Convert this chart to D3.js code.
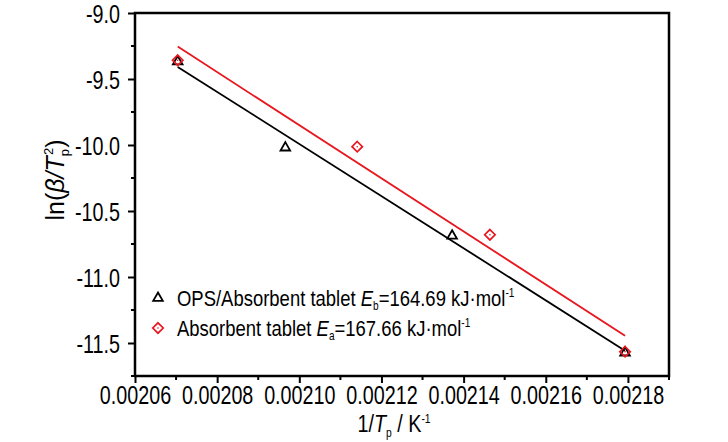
<!DOCTYPE html>
<html><head><meta charset="utf-8">
<script src="https://cdn.jsdelivr.net/npm/d3@7"></script>
<style>
body{margin:0;background:#fff;}
svg{display:block;}
svg text{font-family:"Liberation Sans",Arial,sans-serif;}
</style></head>
<body><svg id="chart" width="728" height="442"></svg>
<script>
const xTicks = [0.00206, 0.00208, 0.00210, 0.00212, 0.00214, 0.00216, 0.00218];
const yTicks = [-9.0, -9.5, -10.0, -10.5, -11.0, -11.5];
const opsX = [0.0020704, 0.0020966, 0.0021372, 0.0021793];
const opsY = [-9.36, -10.013, -10.68, -11.566];
const absX = [0.0020704, 0.0021141, 0.0021464, 0.0021793];
const absY = [-9.358, -10.013, -10.68, -11.566];
const seriesNames = ["OPS/Absorbent tablet ", "Absorbent tablet "];
const seriesE = [["b", "164.69"], ["a", "167.66"]];
const colors = ["#000000", "#e8161e"];

const svg = d3.select("#chart");
const L = 135, R = 669, T = 13, B = 376;
const SX = 0.79;
const x = d3.scaleLinear().domain([0.00206, 0.00219]).range([L, R]);
const y = d3.scaleLinear().domain([-11.75, -9.0]).range([B, T]);

function fit(xs, ys) {
  const mx = d3.mean(xs), my = d3.mean(ys);
  let sxy = 0, sxx = 0;
  xs.forEach((v, i) => { sxy += (v - mx) * (ys[i] - my); sxx += (v - mx) * (v - mx); });
  const b = sxy / sxx, a = my - b * mx;
  const x0 = d3.min(xs), x1 = d3.max(xs);
  return [[x0, a + b * x0], [x1, a + b * x1]];
}

const series = [[opsX, opsY], [absX, absY]];
series.forEach((s, i) => {
  const pts = fit(s[0], s[1]);
  svg.append("line")
    .attr("x1", x(pts[0][0])).attr("y1", y(pts[0][1]))
    .attr("x2", x(pts[1][0])).attr("y2", y(pts[1][1]))
    .attr("stroke", colors[i]).attr("stroke-width", 1.8);
});

const tri = d3.symbol().type(d3.symbolTriangle).size(40);
function triangle(g, cx, cy) {
  g.append("path").attr("d", tri()).attr("transform", `translate(${cx},${cy + 1})`)
    .attr("fill", "none").attr("stroke", "#000").attr("stroke-width", 1.8);
}
function diamond(g, cx, cy) {
  const s = 5.2;
  g.append("path").attr("d", `M${cx},${cy - s}L${cx + s},${cy}L${cx},${cy + s}L${cx - s},${cy}Z`)
    .attr("fill", "none").attr("stroke", colors[1]).attr("stroke-width", 1.7);
  g.append("circle").attr("cx", cx).attr("cy", cy).attr("r", 0.8).attr("fill", colors[1]);
}
const mk = svg.append("g");
opsX.forEach((v, i) => triangle(mk, x(v), y(opsY[i])));
absX.forEach((v, i) => diamond(mk, x(v), y(absY[i])));

const xAxis = d3.axisBottom(x).tickValues(xTicks).tickSize(7).tickFormat(d3.format(".5f"));
const gx = svg.append("g").attr("transform", `translate(0,${B})`).call(xAxis);
const xMinor = d3.range(0.00207, 0.00219, 0.00002);
gx.selectAll(".minor").data(xMinor).enter().append("line").attr("class", "minor")
  .attr("x1", d => x(d)).attr("x2", d => x(d)).attr("y1", 0).attr("y2", 4)
  .attr("stroke", "#000").attr("stroke-width", 2);
const yAxis = d3.axisLeft(y).tickValues(yTicks).tickSize(7).tickFormat(d3.format(".1f"));
const gy = svg.append("g").attr("transform", `translate(${L},0)`).call(yAxis);
const yMinor = [-9.25, -9.75, -10.25, -10.75, -11.25, -11.75];
gy.selectAll(".minor").data(yMinor).enter().append("line").attr("class", "minor")
  .attr("x1", 0).attr("x2", -4).attr("y1", d => y(d)).attr("y2", d => y(d))
  .attr("stroke", "#000").attr("stroke-width", 2);
[gx, gy].forEach(g => {
  g.select(".domain").remove();
  g.selectAll(".tick line").attr("stroke", "#000").attr("stroke-width", 2);
  g.attr("font-family", null);
  g.selectAll("text").attr("font-size", 25).attr("fill", "#000")
    .attr("transform", `scale(${SX},1)`);
});
gx.selectAll(".tick text").attr("dy", "0.71em").attr("y", 10);
gy.selectAll(".tick text").attr("x", -15 / SX).attr("dy", "0.36em");
gy.selectAll(".tick text").text(d => d3.format(".1f")(d).replace("−", "-"));

svg.append("rect").attr("x", L).attr("y", T).attr("width", R - L).attr("height", B - T)
  .attr("fill", "none").attr("stroke", "#000").attr("stroke-width", 2.5);

const xt = svg.append("text").attr("transform", "translate(394,432) scale(0.86,1)")
  .attr("text-anchor", "middle").attr("font-size", 23);
xt.append("tspan").text("1/");
xt.append("tspan").attr("font-style", "italic").text("T");
xt.append("tspan").attr("font-size", 12).attr("dy", 5).text("p");
xt.append("tspan").attr("dy", -5).text(" / K");
xt.append("tspan").attr("font-size", 12).attr("dy", -9).text("-1");

const yt = svg.append("text").attr("transform", "translate(64,180) rotate(-90)")
  .attr("text-anchor", "middle").attr("font-size", 25);
yt.append("tspan").text("ln(");
yt.append("tspan").attr("font-style", "italic").text("β/T");
yt.append("tspan").attr("font-size", 13).attr("dy", 5).text("p");
yt.append("tspan").attr("font-size", 13).attr("dy", -16).attr("dx", -6).text("2");
yt.append("tspan").attr("dy", 11).text(")");

const legY = [298, 328];
legY.forEach((ly, i) => {
  if (i === 0) triangle(svg, 158, ly - 1); else diamond(svg, 158, ly);
  const t = svg.append("text").attr("transform", `translate(177,${ly + 8}) scale(0.84,1)`)
    .attr("font-size", 22);
  t.append("tspan").text(seriesNames[i]);
  t.append("tspan").attr("font-style", "italic").text("E");
  t.append("tspan").attr("font-size", 12).attr("dy", 4).text(seriesE[i][0]);
  t.append("tspan").attr("dy", -4).text("=" + seriesE[i][1] + " kJ·mol");
  t.append("tspan").attr("font-size", 12).attr("dy", -9).text("-1");
});
</script></body></html>
